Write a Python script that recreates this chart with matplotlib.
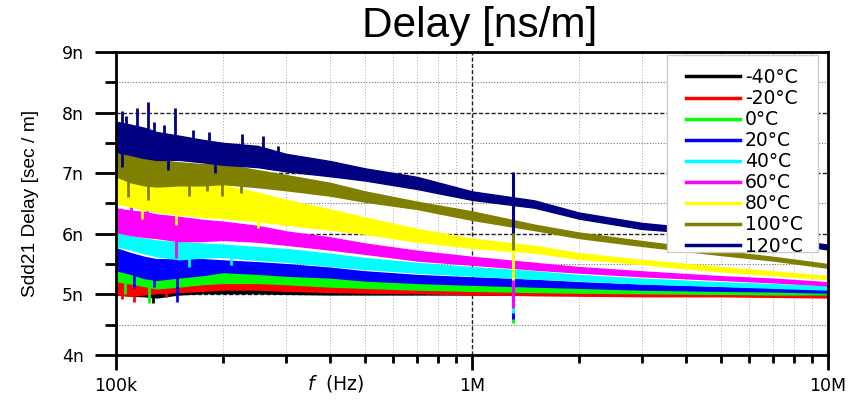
import numpy as np
import matplotlib
matplotlib.use("Agg")
import matplotlib.pyplot as plt
from matplotlib.ticker import FixedLocator, MultipleLocator, FuncFormatter, NullFormatter
from matplotlib.lines import Line2D
from matplotlib.patches import Rectangle

plt.rcParams["font.family"] = ["Liberation Sans", "DejaVu Sans"]
plt.rcParams["mathtext.fontset"] = "custom"
plt.rcParams["mathtext.it"] = "DejaVu Sans:italic"
plt.rcParams["mathtext.rm"] = "DejaVu Sans"
WIDE = ["DejaVu Sans"]

# frequency grid (Hz) where the band edges were taken
freq = [100e3, 110e3, 120e3, 130e3, 150e3, 175e3, 200e3, 250e3, 300e3, 400e3,
        500e3, 700e3, 1e6, 1.5e6, 2e6, 3e6, 5e6, 7e6, 10e6]

temps = ["-40°C", "-20°C", "0°C", "20°C", "40°C", "60°C", "80°C", "100°C", "120°C"]
colors = ["#000000", "#ff0000", "#00ff00", "#0000ff", "#00ffff",
          "#ff00ff", "#ffff00", "#808000", "#000080"]

# upper / lower edge of each noisy delay trace, ns/m
upper_m40 = [5.18, 5.16, 5.18, 5.13, 5.13, 5.13, 5.11, 5.11, 5.10, 5.08, 5.07, 5.06, 5.05, 5.04, 5.03, 5.02, 5.01, 5.01, 5.00]
lower_m40 = [5.00, 4.98, 4.97, 4.95, 5.00, 5.02, 5.02, 5.02, 5.01, 5.00, 5.00, 5.00, 5.00, 4.99, 4.99, 4.99, 4.99, 4.99, 4.98]
upper_m20 = [5.27, 5.22, 5.18, 5.16, 5.22, 5.20, 5.20, 5.20, 5.19, 5.15, 5.13, 5.11, 5.09, 5.06, 5.04, 5.02, 5.00, 4.99, 4.98]
lower_m20 = [5.00, 4.98, 5.00, 5.02, 5.04, 5.06, 5.08, 5.08, 5.06, 5.04, 5.03, 5.02, 5.00, 4.99, 4.98, 4.97, 4.97, 4.96, 4.95]
upper_0 = [5.47, 5.42, 5.40, 5.38, 5.38, 5.38, 5.36, 5.36, 5.34, 5.31, 5.27, 5.22, 5.18, 5.14, 5.12, 5.10, 5.07, 5.05, 5.04]
lower_0 = [5.22, 5.18, 5.14, 5.10, 5.13, 5.17, 5.19, 5.19, 5.17, 5.13, 5.11, 5.08, 5.06, 5.04, 5.03, 5.02, 5.01, 5.00, 5.00]
upper_20 = [5.76, 5.68, 5.62, 5.58, 5.58, 5.58, 5.56, 5.53, 5.50, 5.44, 5.38, 5.32, 5.28, 5.24, 5.20, 5.16, 5.12, 5.10, 5.08]
lower_20 = [5.40, 5.34, 5.27, 5.24, 5.28, 5.32, 5.37, 5.34, 5.31, 5.28, 5.23, 5.19, 5.16, 5.13, 5.11, 5.08, 5.06, 5.05, 5.03]
upper_40 = [6.02, 5.96, 5.92, 5.89, 5.86, 5.84, 5.82, 5.78, 5.75, 5.67, 5.60, 5.52, 5.45, 5.38, 5.32, 5.26, 5.20, 5.17, 5.13]
lower_40 = [5.80, 5.74, 5.68, 5.63, 5.58, 5.61, 5.62, 5.57, 5.54, 5.47, 5.42, 5.36, 5.31, 5.26, 5.23, 5.18, 5.14, 5.11, 5.08]
upper_60 = [6.42, 6.38, 6.36, 6.32, 6.28, 6.23, 6.20, 6.13, 6.04, 5.94, 5.84, 5.72, 5.62, 5.52, 5.45, 5.38, 5.30, 5.26, 5.20]
lower_60 = [6.03, 5.98, 5.95, 5.93, 5.88, 5.88, 5.90, 5.87, 5.82, 5.74, 5.67, 5.56, 5.49, 5.41, 5.36, 5.30, 5.24, 5.20, 5.15]
upper_80 = [7.05, 6.90, 6.85, 6.85, 6.85, 6.82, 6.80, 6.68, 6.56, 6.40, 6.27, 6.08, 5.92, 5.80, 5.68, 5.57, 5.45, 5.38, 5.30]
lower_80 = [6.50, 6.45, 6.40, 6.36, 6.32, 6.28, 6.26, 6.21, 6.15, 6.07, 6.00, 5.87, 5.77, 5.69, 5.59, 5.50, 5.38, 5.32, 5.25]
upper_100 = [7.33, 7.28, 7.25, 7.22, 7.18, 7.15, 7.15, 7.05, 6.97, 6.84, 6.70, 6.53, 6.37, 6.15, 6.02, 5.88, 5.72, 5.62, 5.50]
lower_100 = [6.95, 6.85, 6.80, 6.78, 6.80, 6.80, 6.82, 6.77, 6.72, 6.63, 6.53, 6.41, 6.23, 6.06, 5.93, 5.80, 5.65, 5.56, 5.44]
upper_120 = [7.85, 7.80, 7.75, 7.68, 7.62, 7.55, 7.50, 7.45, 7.32, 7.20, 7.08, 6.94, 6.70, 6.55, 6.35, 6.18, 6.05, 5.95, 5.82]
lower_120 = [7.35, 7.30, 7.25, 7.22, 7.22, 7.18, 7.14, 7.10, 7.03, 6.95, 6.88, 6.74, 6.56, 6.43, 6.25, 6.08, 5.98, 5.88, 5.74]

uppers = [upper_m40, upper_m20, upper_0, upper_20, upper_40, upper_60, upper_80, upper_100, upper_120]
lowers = [lower_m40, lower_m20, lower_0, lower_20, lower_40, lower_60, lower_80, lower_100, lower_120]

# resonance glitch near 1.3 MHz, min / max per trace
glitch_f = 1.30e6
glitch_lo = [4.95, 4.90, 4.52, 4.60, 4.70, 4.78, 5.23, 5.73, 6.02]
glitch_hi = [5.05, 5.10, 5.20, 5.30, 5.45, 5.60, 6.10, 6.60, 7.02]

# isolated noise spikes: (trace index, freq, low, high)
spikes = [
    (8, 104e3, 7.50, 8.02), (8, 107e3, 7.50, 7.95), (8, 114.6e3, 7.50, 8.07),
    (8, 123e3, 7.40, 8.18), (8, 128e3, 7.40, 7.85), (8, 136e3, 7.40, 7.80),
    (8, 146e3, 7.30, 8.08), (8, 165e3, 7.30, 7.72), (8, 182e3, 7.30, 7.68),
    (8, 226e3, 7.20, 7.65), (8, 258e3, 7.20, 7.62), (8, 285e3, 7.10, 7.45),
    (8, 104e3, 7.10, 7.40), (8, 140e3, 7.05, 7.30), (8, 190e3, 7.00, 7.20),
    (7, 108e3, 6.60, 7.00), (7, 123e3, 6.55, 7.00), (7, 160e3, 6.63, 7.00),
    (7, 180e3, 6.70, 7.00), (7, 198e3, 6.62, 7.00), (7, 225e3, 6.68, 7.00),
    (6, 147e3, 6.15, 6.50), (6, 118e3, 6.25, 6.50), (6, 250e3, 6.10, 6.30),
    (5, 147e3, 5.60, 6.00), (5, 110e3, 6.00, 6.55), (5, 122e3, 6.00, 6.60),
    (4, 160e3, 5.45, 5.70), (4, 210e3, 5.48, 5.70),
    (3, 148e3, 4.88, 5.30), (3, 112e3, 5.10, 5.40), (3, 128e3, 5.12, 5.30),
    (2, 124e3, 4.85, 5.20), (2, 106e3, 5.00, 5.25),
    (0, 127e3, 4.85, 5.00),
    (1, 104e3, 4.92, 5.10), (1, 112e3, 4.88, 5.10), (1, 138e3, 4.95, 5.10),
]

fig = plt.figure(figsize=(8.62, 4.0), dpi=100)
ax = fig.add_axes([0.1346, 0.1125, 0.826, 0.7575])

for i, (lab, c) in enumerate(zip(temps, colors)):
    z = 3 + i
    ax.fill_between(freq, lowers[i], uppers[i], color=c, lw=1.0, zorder=z)
    ax.vlines(glitch_f, glitch_lo[i], glitch_hi[i], color=c, lw=2.2, zorder=z)
    for k, f, lo, hi in spikes:
        if k == i:
            ax.vlines(f, lo, hi, color=c, lw=2.0, zorder=z)

ax.set_xscale("log")
ax.set_xlim(1e5, 1e7)
ax.set_ylim(4, 9)

ax.yaxis.set_major_locator(MultipleLocator(1))
ax.yaxis.set_minor_locator(MultipleLocator(0.5))
ax.yaxis.set_major_formatter(FuncFormatter(lambda v, p: "%dn" % round(v)))

xlabels = {1e5: "100k", 1e6: "1M", 1e7: "10M"}
ax.xaxis.set_major_locator(FixedLocator(list(xlabels.keys())))
ax.xaxis.set_major_formatter(FuncFormatter(lambda v, p: xlabels.get(v, "")))
minor_x = [m * d for d in (1e5, 1e6) for m in range(2, 10)]
ax.xaxis.set_minor_locator(FixedLocator(minor_x))
ax.xaxis.set_minor_formatter(NullFormatter())

ax.tick_params(axis="y", which="major", direction="out", length=15, width=2.0, pad=8)
ax.tick_params(axis="y", which="minor", direction="out", length=8, width=2.0)
ax.tick_params(axis="x", which="major", direction="out", length=11, width=2.0, pad=5)
ax.tick_params(axis="x", which="minor", direction="out", length=6, width=2.0)
for t in ax.get_xticklabels() + ax.get_yticklabels():
    t.set_family(WIDE)
    t.set_fontsize(12.5)

for s in ax.spines.values():
    s.set_linewidth(2.0)
    s.set_zorder(20)

# grid: heavy dashed on decades / integer ns, light dotted on the rest
for y in range(5, 9):
    ax.axhline(y, color="#222222", lw=1.0, ls=(0, (3, 1.5)), zorder=1)
for y in (4.5, 5.5, 6.5, 7.5, 8.5):
    ax.axhline(y, color="#777777", lw=0.8, ls=(0, (1, 1.5)), zorder=1)
ax.axvline(1e6, color="#222222", lw=1.0, ls=(0, (3, 1.5)), zorder=1)
for x in minor_x:
    ax.axvline(x, color="#aaaaaa", lw=0.7, ls=(0, (1, 2)), zorder=1)

ax.set_ylabel("Sdd21 Delay [sec / m]", fontsize=13.8)
ax.yaxis.set_label_coords(-0.108, 0.5)
fig.text(336 / 862, 1 - 383 / 400, "$f$  (Hz)", fontsize=13.5, family=WIDE,
         ha="center", va="center")
fig.text(480 / 862, 1 - 26 / 400, "Delay [ns/m]", fontsize=30.5, ha="center", va="center")

# legend box drawn separately so the padding can follow the original layout
ax.add_patch(Rectangle((0.774, 0.340), 0.212, 0.650, transform=ax.transAxes,
                       facecolor="white", edgecolor="#cccccc", lw=1.0, zorder=25))
handles = [Line2D([], [], color=c, lw=2.5) for c in colors]
leg = fig.legend(handles, temps, loc="upper left",
                 bbox_to_anchor=(686 / 862, 1 - 68 / 400),
                 borderaxespad=0, borderpad=0, frameon=False,
                 prop={"family": WIDE, "size": 13.5},
                 handlelength=2.88, handletextpad=0.27, labelspacing=0.11)
leg.set_zorder(30)

fig.savefig("out.png", dpi=100)
